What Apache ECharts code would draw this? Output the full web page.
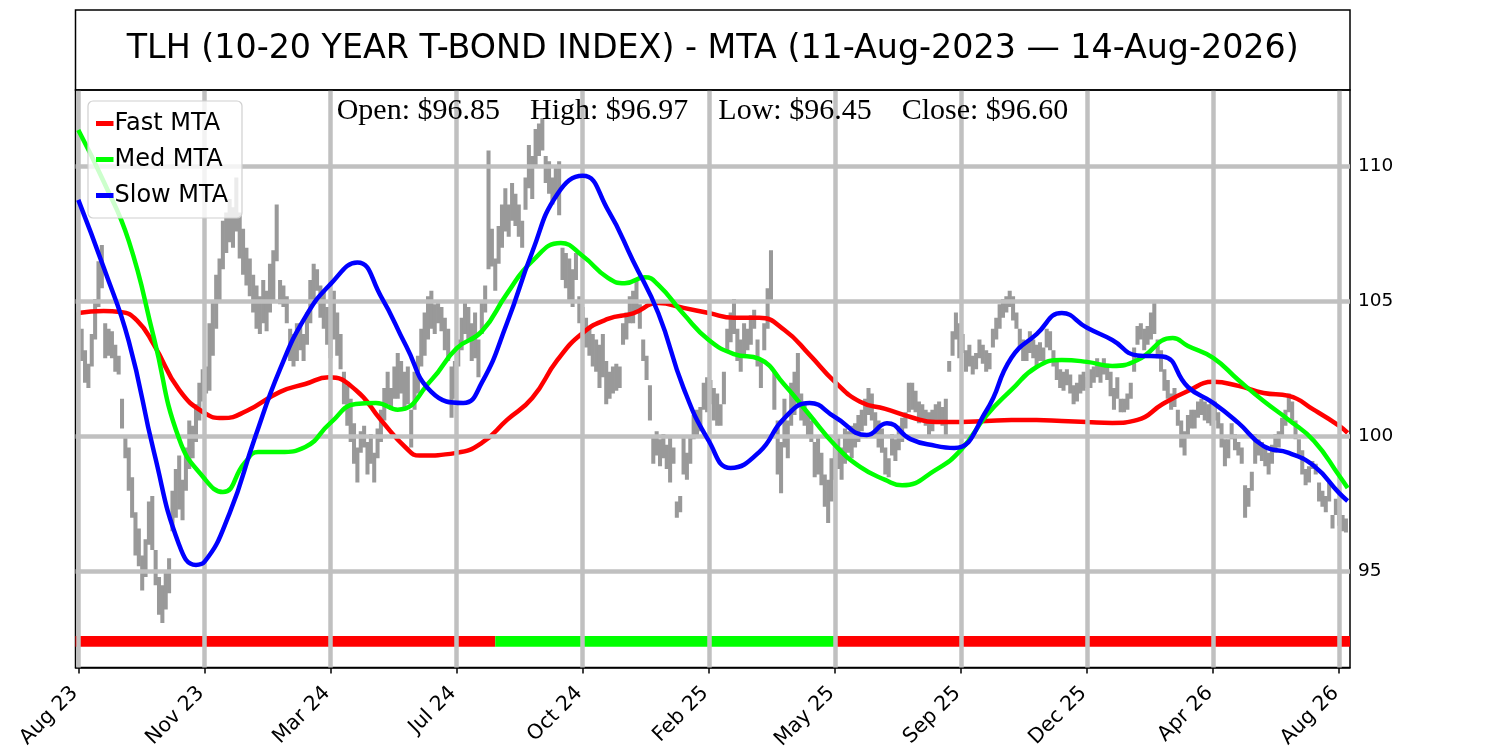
<!DOCTYPE html>
<html><head><meta charset="utf-8">
<script src="https://cdn.jsdelivr.net/npm/echarts@6/dist/echarts.min.js"></script>
<style>html,body{margin:0;padding:0;background:#fff}#chart{width:1500px;height:750px}</style>
</head><body><div id="chart"></div>
<script>
const chartTitle = 'TLH (10-20 YEAR T-BOND INDEX) - MTA (11-Aug-2023 \u2014 14-Aug-2026)';
const ohlcText = 'Open: $96.85    High: $96.97    Low: $96.45    Close: $96.60';

// x axis: bar index, one tick every 75 bars
const tickIndex = [0, 75, 150, 225, 300, 375, 450, 525, 600, 675, 750];
const tickLabels = ['Aug 23', 'Nov 23', 'Mar 24', 'Jul 24', 'Oct 24', 'Feb 25', 'May 25', 'Sep 25', 'Dec 25', 'Apr 26', 'Aug 26'];
const yTicks = [95, 100, 105, 110];
const xRange = [-1.67, 756.4];
const yRange = [91.45, 112.84];

// price bars: [low, high], one entry every BAR_STEP bars
const BAR_STEP = 2;
const hlBars = [
[103.2,104.6],[102.8,104.0],[102.0,103.2],[101.8,102.7],[102.6,103.8],[103.6,105.1],[104.8,106.5],[105.5,107.1],[102.9,104.2],[103.0,104.0],
[102.9,103.9],[102.4,103.4],[102.3,103.0],[100.3,101.4],[99.2,100.0],[98.0,99.6],[97.0,98.5],[95.6,97.2],[95.2,96.6],[94.3,95.6],
[94.8,96.2],[96.0,97.6],[95.8,97.8],[94.5,95.8],[93.4,94.8],[93.1,94.5],[93.6,95.0],[94.2,95.5],[96.5,98.0],[97.0,98.8],
[97.3,99.3],[96.9,98.4],[98.0,99.6],[98.8,100.6],[99.2,100.4],[99.8,101.2],[100.6,102.0],[101.3,102.5],[101.6,102.6],[101.7,104.2],
[103.0,105.0],[104.0,106.0],[105.0,106.6],[106.2,108.0],[106.8,108.3],[107.2,108.8],[107.0,108.5],[107.6,109.6],[106.6,108.3],[106.0,107.7],
[105.6,107.0],[105.2,106.6],[104.6,106.0],[104.0,105.6],[103.8,105.2],[104.2,105.8],[103.9,105.4],[104.6,106.4],[105.0,106.9],[106.5,108.6],
[104.9,105.8],[104.8,105.6],[104.2,105.2],[102.8,104.0],[102.6,103.8],[102.8,104.2],[103.2,104.2],[102.8,103.8],[103.4,104.6],[104.2,105.8],
[105.0,106.4],[105.4,106.2],[104.4,105.6],[104.0,105.4],[103.4,104.8],[102.9,104.4],[103.6,105.4],[103.0,104.6],[102.5,103.8],[101.2,102.4],
[100.4,101.9],[99.8,101.4],[99.0,100.5],[98.3,99.6],[99.4,100.2],[99.6,100.4],[98.6,99.8],[99.0,100.1],[98.3,99.4],[99.2,100.3],
[99.8,101.0],[100.6,101.8],[101.2,102.4],[101.0,101.8],[101.4,102.6],[101.4,103.1],[101.6,102.8],[101.0,102.4],[101.2,102.6],[99.6,101.0],
[101.0,102.4],[101.6,103.0],[102.6,104.0],[103.0,104.6],[103.6,105.2],[104.0,105.4],[103.8,104.9],[104.2,105.0],[103.9,104.8],[103.2,104.4],
[102.8,104.0],[100.7,102.6],[101.4,102.8],[102.6,103.6],[103.2,104.4],[103.8,105.0],[103.6,104.8],[102.8,104.2],[102.9,104.6],[102.2,103.6],
[103.8,105.0],[104.6,105.6],[106.2,110.6],[106.3,107.7],[105.4,106.6],[106.4,107.8],[107.0,108.6],[107.6,109.2],[107.4,108.6],[108.0,109.4],
[107.8,109.0],[107.4,108.6],[107.0,108.0],[108.4,109.6],[109.2,110.8],[108.8,110.4],[110.0,111.4],[110.4,111.6],[110.6,111.8],[109.4,110.4],
[109.0,110.2],[108.6,109.6],[108.8,110.0],[108.2,110.2],[105.8,107.0],[105.5,106.8],[105.0,106.6],[104.8,106.2],[105.8,106.8],[104.2,105.2],
[103.6,104.8],[103.3,104.4],[103.0,104.0],[102.6,103.8],[102.4,103.6],[101.8,103.4],[102.2,103.8],[101.2,102.8],[101.4,102.4],[101.6,102.6],
[101.7,102.7],[101.8,102.6],[103.4,104.2],[103.6,104.6],[104.2,105.2],[104.2,105.4],[104.6,105.8],[104.0,104.9],[102.8,103.6],[102.1,103.0],
[100.6,101.9],[99.0,100.0],[99.3,100.2],[98.9,99.9],[99.2,100.1],[98.8,99.7],[98.3,100.0],[99.0,99.6],[97.0,97.6],[97.2,97.8],
[98.6,100.0],[98.4,99.4],[99.0,100.0],[99.9,100.8],[100.0,101.0],[100.2,101.1],[101.0,102.0],[100.9,102.2],[101.2,102.1],[100.6,101.8],
[100.4,101.6],[100.4,101.2],[101.2,102.4],[103.2,104.0],[103.5,104.6],[103.8,105.1],[102.8,104.0],[102.4,103.6],[103.0,104.2],[103.2,104.0],
[103.4,104.5],[104.0,104.7],[102.6,103.6],[101.8,102.8],[103.2,104.2],[104.0,105.5],[105.0,106.9],[101.0,102.4],[98.6,100.6],[97.9,99.8],
[99.6,101.4],[99.2,100.6],[100.4,102.0],[100.8,102.4],[101.4,103.1],[100.6,101.6],[100.4,101.3],[100.0,100.9],[99.8,100.6],[98.5,99.8],
[98.6,100.0],[98.2,99.4],[97.4,98.6],[96.8,98.4],[97.6,99.2],[98.4,99.8],[98.8,100.0],[98.4,99.6],[99.0,100.3],[99.4,100.2],
[99.2,100.4],[99.6,100.5],[99.8,100.8],[100.2,101.0],[100.4,101.4],[100.8,101.8],[100.6,101.6],[100.0,100.9],[99.6,100.6],[99.4,100.3],
[98.6,99.6],[98.5,99.2],[99.3,100.1],[99.1,99.9],[99.5,100.4],[99.8,100.7],[100.3,100.9],[100.9,102.0],[101.0,102.0],[100.9,101.7],
[100.5,101.3],[100.6,101.2],[100.4,101.0],[100.0,100.9],[100.2,101.0],[100.5,101.2],[100.6,101.3],[100.4,101.1],[100.0,101.4],[102.4,102.8],
[103.0,103.9],[103.6,104.6],[102.9,104.2],[103.1,103.8],[102.4,103.2],[102.6,103.4],[102.3,103.0],[102.5,103.1],[102.9,103.6],[102.7,103.4],
[102.4,103.2],[102.5,103.1],[103.3,104.0],[103.6,104.4],[104.0,104.9],[104.4,105.1],[104.6,105.2],[104.8,105.4],[104.3,105.2],[104.0,104.6],
[103.3,104.0],[102.8,103.6],[102.8,103.5],[103.1,103.9],[102.9,103.6],[102.6,103.4],[102.8,103.5],[102.8,103.3],[103.3,104.0],[103.2,103.9],
[102.6,103.2],[102.1,102.9],[101.8,102.5],[101.7,102.4],[101.9,102.5],[101.6,102.3],[101.2,101.9],[101.3,102.0],[101.6,102.3],[101.7,102.4],
[101.8,102.2],[101.8,102.5],[102.0,102.6],[102.2,102.9],[102.0,102.7],[102.3,102.9],[102.1,102.7],[101.5,102.4],[101.0,101.8],[101.4,102.2],
[100.9,101.4],[100.9,101.4],[101.0,101.6],[101.4,102.0],[102.4,103.3],[103.4,104.1],[103.6,104.2],[103.2,104.0],[103.4,104.1],[103.6,104.6],
[103.8,105.0],[102.9,103.6],[102.4,103.2],[101.7,102.5],[101.4,102.1],[101.0,101.6],[101.1,101.8],[100.4,101.0],[99.6,100.6],[99.3,100.2],
[100.0,100.8],[100.3,101.0],[100.3,101.0],[100.7,101.3],[100.8,101.4],[100.6,101.3],[100.5,101.2],[100.4,101.4],[100.6,101.3],[100.3,100.9],
[99.6,100.5],[98.9,99.9],[99.2,99.9],[99.9,100.5],[99.5,100.1],[99.3,99.8],[99.0,99.6],[97.0,98.2],[97.4,98.1],[98.0,98.7],
[99.0,100.1],[99.3,99.9],[99.1,99.8],[98.9,99.6],[98.6,99.4],[99.0,99.7],[99.4,100.1],[99.6,100.2],[100.0,100.7],[100.4,101.0],
[100.9,101.6],[100.6,101.3],[99.9,100.6],[99.3,99.9],[98.6,99.5],[98.2,98.8],[98.3,98.9],[98.8,99.1],[98.6,99.0],[97.6,98.3],
[97.4,98.0],[97.2,97.8],[97.6,98.3],[96.6,97.1],[97.1,97.7],[96.7,97.3],[96.5,97.1],[96.45,96.97]
];

// moving trend averages: [bar index, value]
const fastMTA = [[0,104.58],[15,104.65],[25,104.62],[35,104.3],[45,103.4],[60,101.73],[75,100.88],[86,100.69],[100,100.95],[120,101.66],[135,101.95],[149,102.2],[165,101.73],[180,100.62],[195,99.58],[203,99.3],[225,99.4],[240,99.77],[255,100.62],[270,101.43],[285,102.84],[300,103.84],[315,104.36],[330,104.57],[345,104.95],[360,104.77],[375,104.58],[390,104.4],[405,104.4],[420,103.95],[435,103.03],[450,102.03],[465,101.29],[480,101.03],[495,100.73],[510,100.54],[525,100.54],[540,100.58],[555,100.62],[570,100.62],[585,100.58],[600,100.54],[615,100.51],[630,100.62],[645,101.21],[660,101.69],[675,102.03],[690,101.88],[705,101.62],[720,101.51],[735,100.99],[750,100.4],[755,100.14]];
const medMTA = [[0,111.36],[15,109.46],[30,107.25],[45,103.65],[60,99.91],[75,98.45],[86,97.95],[99,99.03],[107,99.43],[120,99.43],[135,99.62],[150,100.51],[165,101.21],[177,101.25],[190,101.0],[210,102.1],[225,103.27],[240,103.9],[255,105.3],[270,106.5],[287,107.17],[300,106.69],[315,105.88],[325,105.68],[337,105.9],[345,105.62],[360,104.54],[375,103.58],[390,103.06],[405,102.88],[420,101.92],[435,100.8],[450,99.69],[465,98.88],[480,98.4],[490,98.2],[510,98.77],[525,99.51],[540,100.77],[555,101.73],[570,102.58],[585,102.84],[600,102.77],[615,102.62],[630,102.84],[651,103.65],[660,103.36],[675,102.92],[690,102.1],[705,101.32],[720,100.62],[735,99.84],[750,98.55],[755,98.1]];
const slowMTA = [[0,108.77],[15,106.28],[30,103.54],[45,99.43],[60,95.99],[70,95.25],[75,95.36],[90,97.17],[105,99.95],[120,102.5],[135,104.43],[150,105.65],[166,106.45],[180,105.2],[195,103.36],[210,101.66],[229,101.25],[240,102.0],[255,104.21],[270,106.84],[285,108.99],[300,109.66],[315,108.4],[330,106.51],[345,104.57],[360,101.8],[375,99.84],[388,98.84],[405,99.43],[420,100.69],[435,101.25],[450,100.73],[469,100.06],[481,100.5],[495,99.91],[510,99.66],[521,99.58],[540,100.95],[555,102.92],[570,103.8],[585,104.58],[600,104.03],[615,103.58],[630,103.01],[645,102.97],[660,101.84],[675,101.25],[690,100.51],[705,99.65],[720,99.4],[735,98.91],[750,97.91],[755,97.62]];

// trend signal band: [from index, to index, state]
const signalLevel = 92.42;
const signalSegments = [[-1.67, 248, 'bear'], [248, 451, 'bull'], [451, 756.4, 'bear']];
const signalColors = {bear: '#ff0000', bull: '#00ff00'};

const chart = echarts.init(document.getElementById('chart'));

const gridLineData = tickIndex.map(v => ({xAxis: v})).concat(yTicks.map(v => ({yAxis: v})));

const series = [
  {
    type: 'line', data: [], z: 1, silent: true,
    markLine: {
      silent: true, symbol: ['none', 'none'], animation: false,
      label: {show: false},
      lineStyle: {color: '#c0c0c0', width: 4.5, type: 'solid'},
      emphasis: {disabled: true},
      data: gridLineData
    }
  },
  {
    type: 'custom', z: 2, clip: true, silent: true,
    data: hlBars.map((r, k) => [k * BAR_STEP, r[0], r[1]]),
    renderItem: function (params, api) {
      const x = api.value(0);
      const top = api.coord([x, api.value(2)]);
      const bot = api.coord([x, api.value(1)]);
      const left = api.coord([x - BAR_STEP / 2, api.value(1)]);
      const right = api.coord([x + BAR_STEP / 2, api.value(1)]);
      const w = (right[0] - left[0]) * 1.2;
      return {type: 'rect', shape: {x: top[0] - w / 2, y: top[1], width: w, height: bot[1] - top[1]}, style: {fill: '#999999'}};
    }
  }
];
signalSegments.forEach(s => {
  series.push({
    type: 'line', z: 3, silent: true, showSymbol: false, symbol: 'none',
    data: [[s[0], signalLevel], [s[1], signalLevel]],
    lineStyle: {color: signalColors[s[2]], width: 10.7, cap: 'butt'}
  });
});
[['Fast MTA', fastMTA, '#ff0000'], ['Med MTA', medMTA, '#00ff00'], ['Slow MTA', slowMTA, '#0000ff']].forEach((d, i) => {
  series.push({
    name: d[0], type: 'line', z: 4 + i, data: d[1], smooth: 0.5, showSymbol: false, symbol: 'none',
    color: d[2], lineStyle: {color: d[2], width: 4.5}
  });
});

chart.setOption({
  animation: false,
  backgroundColor: '#ffffff',
  grid: {left: 75.5, right: 150, top: 90, bottom: 82.5, show: true, borderColor: '#000', borderWidth: 1.5, backgroundColor: 'transparent', containLabel: false, outerBoundsMode: 'none'},
  xAxis: {
    type: 'value', min: xRange[0], max: xRange[1],
    axisLine: {show: true, onZero: false, lineStyle: {color: '#000', width: 1.5}},
    axisTick: {show: true, customValues: tickIndex, length: 6, lineStyle: {color: '#000', width: 1.5}},
    axisLabel: {show: true, customValues: tickIndex, rotate: 45, margin: 19, padding: [0, 5, 0, 0], fontSize: 20.5, fontFamily: 'DejaVu Sans', color: '#000',
      formatter: v => tickLabels[Math.round(v / 75)] || ''},
    splitLine: {show: false}
  },
  yAxis: {
    type: 'value', position: 'right', min: yRange[0], max: yRange[1],
    axisLine: {show: true, lineStyle: {color: '#000', width: 1.5}},
    axisTick: {show: true, customValues: yTicks, length: 6, lineStyle: {color: '#000', width: 1.5}},
    axisLabel: {show: true, customValues: yTicks, margin: 8, fontSize: 18.5, fontFamily: 'DejaVu Sans', color: '#000'},
    splitLine: {show: false}
  },
  legend: {
    data: ['Fast MTA', 'Med MTA', 'Slow MTA'],
    orient: 'vertical', left: 88, top: 101, z: 50,
    icon: 'rect', itemWidth: 17.5, itemHeight: 5, itemGap: 12,
    padding: [10.5, 7, 8, 8],
    backgroundColor: 'transparent', borderWidth: 0,
    textStyle: {fontFamily: 'DejaVu Sans', fontSize: 24, color: '#000', padding: [0, 0, 0, -4]},
    selectedMode: false
  },
  graphic: [
    {type: 'rect', z: 40, silent: true, shape: {x: 88, y: 101, width: 154, height: 117, r: 5}, style: {fill: 'rgba(255,255,255,0.8)', stroke: '#d0d0d0', lineWidth: 1.2}},
    {type: 'rect', shape: {x: 75.5, y: 10, width: 1274.5, height: 80}, style: {fill: 'none', stroke: '#000', lineWidth: 1.5}, z: 10},
    {type: 'text', x: 712.75, y: 49, style: {text: chartTitle, font: '33.3px "DejaVu Sans"', fill: '#000', textAlign: 'center', textVerticalAlign: 'middle'}, z: 10},
    {type: 'text', x: 336.7, y: 111, style: {text: ohlcText, font: '30px "Liberation Serif"', fill: '#000', textAlign: 'left', textVerticalAlign: 'middle'}, z: 10}
  ],
  series: series
});
</script>
</body></html>
